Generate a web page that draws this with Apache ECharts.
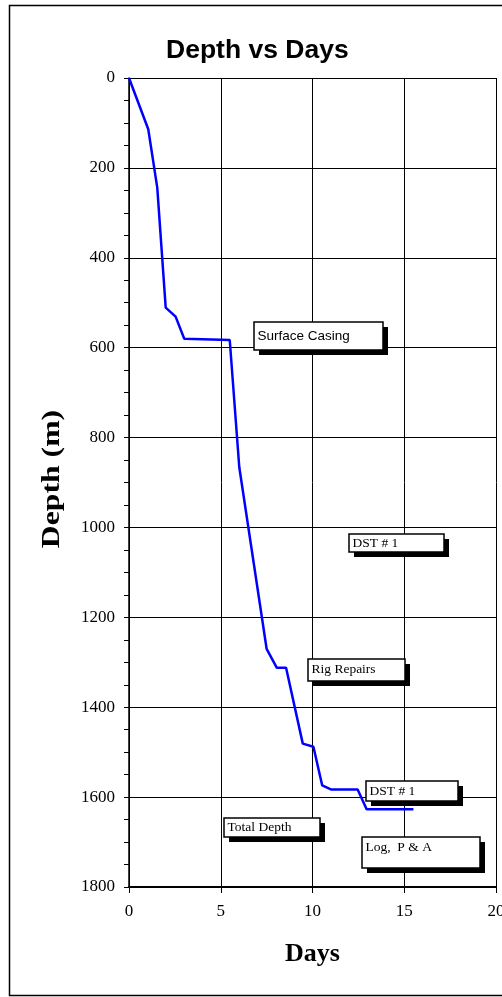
<!DOCTYPE html>
<html>
<head>
<meta charset="utf-8">
<script src="https://cdn.jsdelivr.net/npm/echarts@6/dist/echarts.min.js"></script>
<style>
html,body{margin:0;padding:0;background:#fff;overflow:hidden;}
#chart{width:502px;height:997px;}
</style>
</head>
<body>
<div id="chart"></div>
<script>
// Data
var days  = [0, 1.05, 1.54, 2.0, 2.54, 3.01, 5.49, 6.01, 7.5, 8.05, 8.56, 9.47, 10.05, 10.53, 11.0, 12.46, 12.95, 15.5];
var depth = [0, 114, 244, 511, 531, 580, 583, 866, 1270, 1312, 1312, 1481, 1488, 1574, 1583, 1583, 1627, 1627];
var xTicks = [0, 5, 10, 15, 20];
var yTicks = [0, 200, 400, 600, 800, 1000, 1200, 1400, 1600, 1800];

// Annotation text boxes (Excel text boxes with drop shadows)
var notes = [
  {text: 'Surface Casing', font: 'sans', box: [254, 322, 129, 28], textY: 'middle'},
  {text: 'DST # 1',        font: 'serif', box: [349, 534, 95, 18], textY: 'middle'},
  {text: 'Rig Repairs',    font: 'serif', box: [308, 659, 97, 22], textY: 'top'},
  {text: 'DST # 1',        font: 'serif', box: [366, 781, 92, 20], textY: 'middle'},
  {text: 'Total Depth',    font: 'serif', box: [224, 818, 96, 19], textY: 'middle'},
  {text: 'Log,  P & A',    font: 'serif', box: [362, 837, 118, 31], textY: 'top'}
];

var SERIF = "'Liberation Serif','Times New Roman',serif";
var SANS = "'Liberation Sans',Arial,sans-serif";

var seriesData = days.map(function (d, i) { return [d, depth[i]]; });

var graphics = [
  {type: 'rect', shape: {x: 9.5, y: 5.5, width: 600, height: 990}, style: {fill: null, stroke: '#000', lineWidth: 1.5}, z: 100, silent: true},
  {type: 'text', x: 52, y: 479, rotation: Math.PI / 2, scaleX: 1.22,
    style: {text: 'Depth (m)', fill: '#000', font: 'bold 26px ' + SERIF, textAlign: 'center', textVerticalAlign: 'middle'}, z: 60}
];
notes.forEach(function (n) {
  var b = n.box;
  graphics.push({type: 'rect', shape: {x: b[0] + 5, y: b[1] + 5, width: b[2], height: b[3]}, style: {fill: '#000'}, z: 50});
  graphics.push({type: 'rect', shape: {x: b[0], y: b[1], width: b[2], height: b[3]}, style: {fill: '#fff', stroke: '#000', lineWidth: 1.5}, z: 51});
  graphics.push({type: 'text', x: b[0] + 3.5, y: n.textY === 'middle' ? b[1] + b[3] / 2 : b[1] + 3,
    style: {text: n.text, fill: '#000', font: (n.font === 'sans' ? '13.5px ' + SANS : '13.5px ' + SERIF),
      textAlign: 'left', textVerticalAlign: n.textY === 'middle' ? 'middle' : 'top'}, z: 52});
});

var chart = echarts.init(document.getElementById('chart'), null, {renderer: 'canvas'});
chart.setOption({
  backgroundColor: '#fff',
  animation: false,
  title: {
    text: 'Depth vs Days',
    left: 166, top: 37, padding: 0,
    textStyle: {fontFamily: SANS, fontSize: 26.5, fontWeight: 'bold', color: '#000'}
  },
  grid: {left: 129, top: 78, width: 367, height: 809, containLabel: false, outerBoundsMode: 'none'},
  xAxis: {
    type: 'value', min: 0, max: 20, interval: 5,
    name: 'Days', nameLocation: 'middle', nameGap: 54,
    nameTextStyle: {fontFamily: SERIF, fontSize: 26, fontWeight: 'bold', color: '#000'},
    axisLine: {onZero: false, lineStyle: {color: '#000', width: 2}},
    axisTick: {show: true, inside: false, length: 6, lineStyle: {color: '#000', width: 1}},
    axisLabel: {margin: 16, fontFamily: SERIF, fontSize: 17, color: '#000', hideOverlap: false,
      formatter: function (v) { return xTicks.indexOf(v) >= 0 ? String(v) : ''; }},
    splitLine: {show: true, lineStyle: {color: '#000', width: 1}}
  },
  yAxis: {
    type: 'value', min: 0, max: 1800, interval: 200, inverse: true,
    axisLine: {show: true, onZero: false, lineStyle: {color: '#000', width: 1.5}},
    axisTick: {show: true, inside: false, length: 5, lineStyle: {color: '#000', width: 1}},
    minorTick: {show: true, splitNumber: 4, length: 5, lineStyle: {color: '#000', width: 1}},
    axisLabel: {margin: 14, fontFamily: SERIF, fontSize: 17, color: '#000',
      formatter: function (v) { return yTicks.indexOf(v) >= 0 ? String(v) : ''; }},
    splitLine: {show: true, lineStyle: {color: '#000', width: 1}}
  },
  series: [{
    type: 'line', data: seriesData, showSymbol: false, symbol: 'none',
    lineStyle: {color: '#0000ff', width: 2.5}, z: 10
  }],
  graphic: graphics
});
</script>
</body>
</html>
